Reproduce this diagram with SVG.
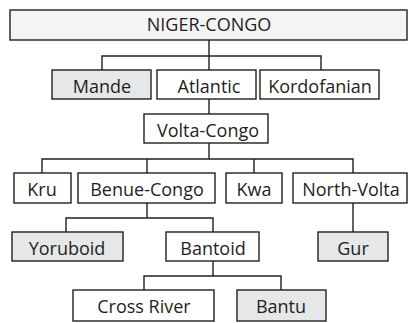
<svg xmlns="http://www.w3.org/2000/svg" width="409" height="323" viewBox="0 0 409 323">
<style>
.b{fill:#ffffff;stroke:#231f20;stroke-width:1.4}
.g{fill:#e6e7e8;stroke:#231f20;stroke-width:1.4}
.r{fill:#f4f4f4;stroke:#231f20;stroke-width:1.4}
.t{font-family:"Open Sans","Noto Sans",sans-serif;font-size:18px;fill:#231f20;text-anchor:middle}
.c{fill:none;stroke:#231f20;stroke-width:1.4}
</style>
<rect width="409" height="323" fill="#ffffff"/>
<g id="connectors">
<path class="c" d="M209 40V70M102 70V56H321V70"/>
<path class="c" d="M209 99V114"/>
<path class="c" d="M209 143V159M42 173V159H353V173M147 159V173M254 159V173"/>
<path class="c" d="M147 203V218M66 232V218H213V232"/>
<path class="c" d="M353 203V232"/>
<path class="c" d="M213 261V276M144 290V276H281V290"/>
</g>
<g id="niger-congo"><rect class="r" x="10" y="10" width="397" height="30"/><text class="t" x="209" y="31">NIGER-CONGO</text></g>
<g id="mande"><rect class="g" x="52" y="70" width="99" height="29"/><text class="t" x="102" y="93">Mande</text></g>
<g id="atlantic"><rect class="b" x="157" y="70" width="99" height="29"/><text class="t" x="209" y="93">Atlantic</text></g>
<g id="kordofanian"><rect class="b" x="260" y="70" width="119" height="29"/><text class="t" x="320" y="93">Kordofanian</text></g>
<g id="volta-congo"><rect class="b" x="144" y="114" width="124" height="29"/><text class="t" x="208" y="137">Volta-Congo</text></g>
<g id="kru"><rect class="b" x="14" y="173" width="57" height="30"/><text class="t" x="42" y="196">Kru</text></g>
<g id="benue-congo"><rect class="b" x="78" y="173" width="137" height="30"/><text class="t" x="147" y="196">Benue-Congo</text></g>
<g id="kwa"><rect class="b" x="226" y="173" width="56" height="30"/><text class="t" x="254" y="196">Kwa</text></g>
<g id="north-volta"><rect class="b" x="293" y="173" width="114" height="30"/><text class="t" x="351" y="196">North-Volta</text></g>
<g id="yoruboid"><rect class="g" x="12" y="232" width="111" height="29"/><text class="t" x="67" y="255">Yoruboid</text></g>
<g id="bantoid"><rect class="b" x="166" y="232" width="93" height="29"/><text class="t" x="213" y="255">Bantoid</text></g>
<g id="gur"><rect class="g" x="318" y="232" width="70" height="29"/><text class="t" x="353" y="255">Gur</text></g>
<g id="cross-river"><rect class="b" x="73" y="290" width="141" height="31"/><text class="t" x="144" y="313">Cross River</text></g>
<g id="bantu"><rect class="g" x="237" y="290" width="89" height="31"/><text class="t" x="281" y="313">Bantu</text></g>
</svg>
